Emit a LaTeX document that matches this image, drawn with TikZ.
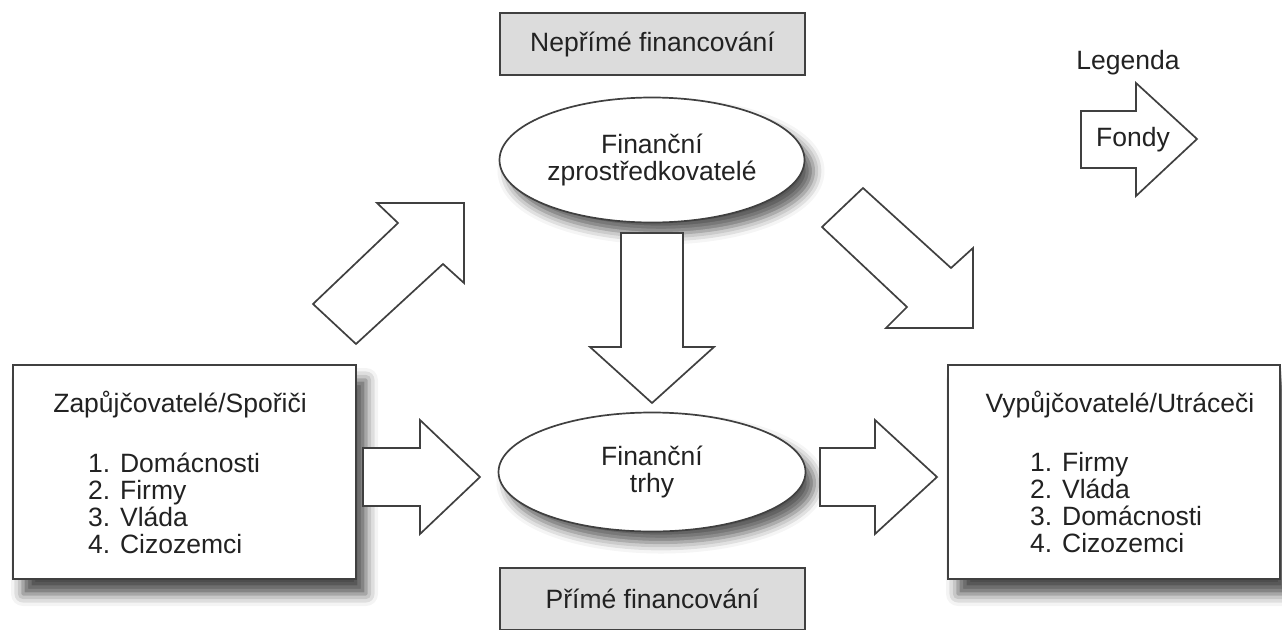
\documentclass[tikz,border=0pt]{standalone}
\usepackage{fontspec}
\setmainfont{Liberation Sans}
\usetikzlibrary{shapes.geometric,shadows.blur}
\definecolor{lineC}{HTML}{404040}
\definecolor{txtC}{HTML}{222222}
\definecolor{boxGray}{HTML}{DCDCDC}
\begin{document}
\begin{tikzpicture}[x=1pt,y=-1pt,
  every node/.style={font=\fontsize{26.5}{27}\selectfont, text=txtC},
  bigbox/.style={draw=lineC, line width=1.7pt, fill=white, rectangle, inner sep=0pt,
    blur shadow={shadow xshift=10pt, shadow yshift=-15pt, shadow blur radius=12pt, shadow opacity=70}},
  ellbox/.style={draw=lineC, line width=1.7pt, fill=white, ellipse, inner sep=0pt, align=center,
    blur shadow={shadow xshift=9pt, shadow yshift=-11pt, shadow blur radius=11pt, shadow opacity=65}},
  graybox/.style={draw=lineC, line width=1.4pt, fill=boxGray, rectangle, inner sep=0pt},
  fundarrow/.style={draw=lineC, line width=1.7pt, fill=white, line join=miter},
  plain/.style={inner sep=0pt}
]
\useasboundingbox (0,0) rectangle (1282,629);

% gray labels
\node[graybox, minimum width=305pt, minimum height=62pt] (neprime) at (652.5,44) {Nepřímé financování};
\node[graybox, minimum width=305pt, minimum height=62pt] (prime) at (652.5,599) {Přímé financování};

% ellipses
\node[ellbox, minimum width=305pt, minimum height=125pt] (fz) at (652,160) {Finanční\\zprostředkovatelé};
\node[ellbox, minimum width=307pt, minimum height=119pt] (ft) at (652,472) {Finanční\\trhy};

% boxes
\node[bigbox, minimum width=343pt, minimum height=214pt] (zap) at (184.5,472) {};
\node[plain] (zapt) at (180,405) {Zapůjčovatelé/Spořiči};
\node[plain, anchor=west, align=left] (zapl) at (88,503) {1. Domácnosti\\2. Firmy\\3. Vláda\\4. Cizozemci};

\node[bigbox, minimum width=332pt, minimum height=214pt] (vyp) at (1114,472) {};
\node[plain] (vypt) at (1120,405) {Vypůjčovatelé/Utráceči};
\node[plain, anchor=west, align=left] (vypl) at (1030,503) {1. Firmy\\2. Vláda\\3. Domácnosti\\4. Cizozemci};

% fund arrows
\draw[fundarrow] (313,304) -- (398,223) -- (377,203) -- (464,203) -- (464,283) -- (443,264) -- (356,344) -- cycle;
\draw[fundarrow] (822,227) -- (863,188) -- (951,268) -- (973,248) -- (973,328) -- (886,328) -- (907,307) -- cycle;
\draw[fundarrow] (621,233) -- (683,233) -- (683,347) -- (714,347) -- (652,403) -- (590,347) -- (621,347) -- cycle;
\draw[fundarrow] (363,448) -- (420,448) -- (420,420) -- (480,477) -- (420,534) -- (420,506) -- (363,506) -- cycle;
\draw[fundarrow] (820,448) -- (875,448) -- (875,420) -- (937,477) -- (875,534) -- (875,506) -- (820,506) -- cycle;

% legend
\node[plain] (leg) at (1128,63) {Legenda};
\draw[fundarrow] (1081,111) -- (1136,111) -- (1136,83) -- (1197,139) -- (1136,196) -- (1136,168) -- (1081,168) -- cycle;
\node[plain] (fondy) at (1133,140) {Fondy};
\end{tikzpicture}
\end{document}
